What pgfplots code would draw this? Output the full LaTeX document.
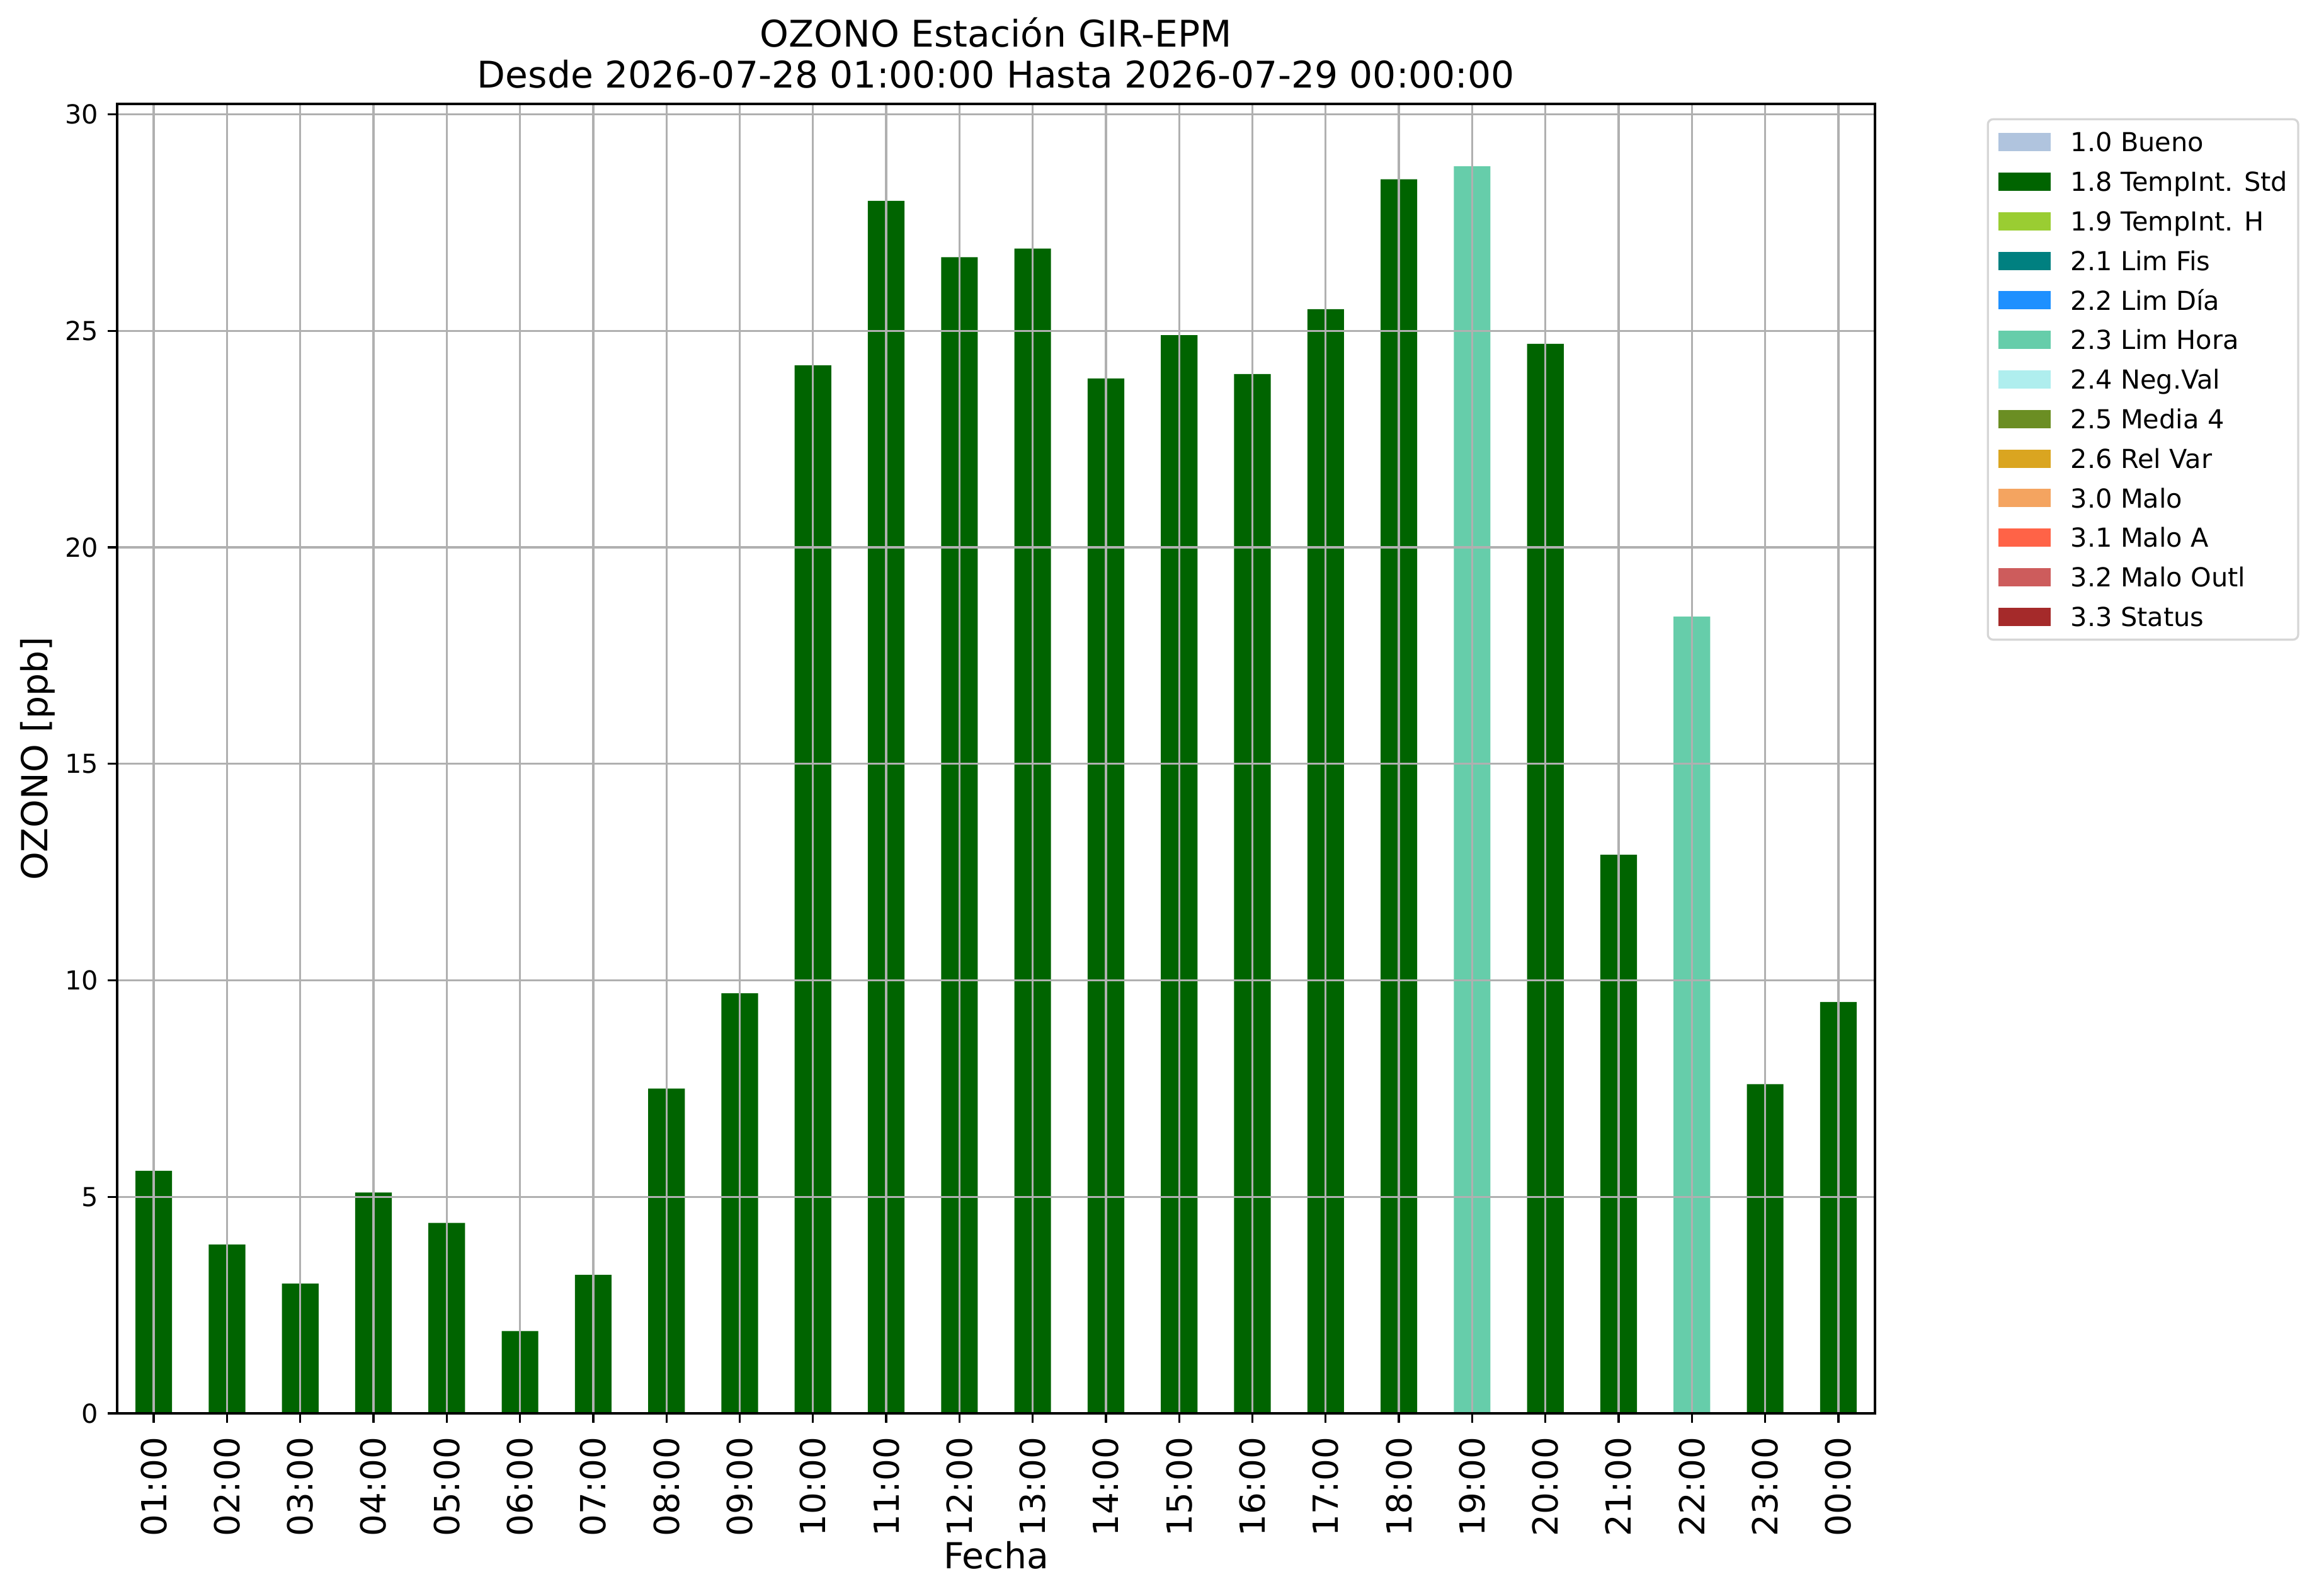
\documentclass[border=0pt]{standalone}
\usepackage{pgfplots}
\pgfplotsset{compat=1.18}
\usepackage{fontspec}
\setmainfont{DejaVu Sans}
\definecolor{cBueno}{HTML}{B0C4DE}
\definecolor{cStd}{HTML}{006400}
\definecolor{cH}{HTML}{9ACD32}
\definecolor{cFis}{HTML}{008080}
\definecolor{cDia}{HTML}{1E90FF}
\definecolor{cHora}{HTML}{66CDAA}
\definecolor{cNeg}{HTML}{AFEEEE}
\definecolor{cMedia}{HTML}{6B8E23}
\definecolor{cRel}{HTML}{DAA520}
\definecolor{cMalo}{HTML}{F4A460}
\definecolor{cMaloA}{HTML}{FF6347}
\definecolor{cOutl}{HTML}{CD5C5C}
\definecolor{cStatus}{HTML}{A52A2A}
\definecolor{gridgray}{HTML}{B0B0B0}
\definecolor{legframe}{HTML}{D6D6D6}
\begin{document}
\begin{tikzpicture}
\path[use as bounding box] (-44.64bp,-69.6bp) rectangle (839.04bp,538.56bp);
\begin{axis}[
  at={(0,0)}, anchor=south west,
  scale only axis, width=669.84bp, height=498.96bp,
  xmin=-0.5, xmax=23.5, ymin=0, ymax=30.24,
  xtick={0,1,...,23},
  xticklabels={01:00,02:00,03:00,04:00,05:00,06:00,07:00,08:00,09:00,10:00,11:00,12:00,13:00,14:00,15:00,16:00,17:00,18:00,19:00,20:00,21:00,22:00,23:00,00:00},
  ytick={0,5,10,15,20,25,30},
  /pgf/number format/assume math mode=true,
  axis on top,
  grid=major,
  major grid style={draw=gridgray, line width=0.8bp},
  axis line style={line width=0.8bp, draw=black},
  tick align=outside,
  tick pos=left,
  major tick length=3.5bp,
  every tick/.style={draw=black, line width=0.8bp},
  yticklabel style={font=\fontsize{10}{12}\selectfont, inner sep=0pt, anchor=east},
  yticklabel shift=3.46bp,
  xticklabel style={font=\fontsize{13.2}{15}\selectfont, rotate=90, anchor=east, inner sep=0pt},
  xticklabel shift=5.4bp,
  title={OZONO Estación GIR-EPM\\Desde 2026-07-28 01:00:00 Hasta 2026-07-29 00:00:00},
  every axis title/.style={at={(0.5,1)}, anchor=south, inner sep=0pt, yshift=5.8bp, align=center, font=\fontsize{14.05}{15.5}\selectfont},
  xlabel={Fecha},
  every axis x label/.style={at={(axis description cs:0.5,0)}, anchor=base, yshift=-59.2bp, inner sep=0pt, font=\fontsize{13.7}{16}\selectfont},
  ylabel={OZONO [ppb]},
  every axis y label/.style={at={(axis description cs:-0.03941,0.5)}, rotate=90, anchor=base, inner sep=0pt, font=\fontsize{13.7}{16}\selectfont},
  legend image code/.code={\fill[#1, sharp corners] (0bp,-3.48bp) rectangle (19.92bp,3.48bp);},
  legend cell align=left,
  legend style={
    at={(1.0636,0.9891)}, anchor=north west,
    draw=legframe, line width=0.8bp, rounded corners=2bp, fill=white,
    inner xsep=4bp, inner ysep=1.2bp,
    row sep=0pt,
    font=\fontsize{10}{12}\selectfont,
    nodes={inner sep=0pt, text height=11.18bp, text depth=3.89bp},
    /tikz/every odd column/.append style={column sep=7.7bp},
  },
]
\addplot[ybar, bar width=0.5, bar shift=0pt, fill=cStd, draw=none, forget plot] coordinates {
  (0,5.6) (1,3.9) (2,3.0) (3,5.1) (4,4.4) (5,1.9) (6,3.2) (7,7.5) (8,9.7)
  (9,24.2) (10,28.0) (11,26.7) (12,26.9) (13,23.9) (14,24.9) (15,24.0)
  (16,25.5) (17,28.5) (19,24.7) (20,12.9) (22,7.6) (23,9.5)
};
\addplot[ybar, bar width=0.5, bar shift=0pt, fill=cHora, draw=none, forget plot] coordinates {
  (18,28.8) (21,18.4)
};
\addlegendimage{fill=cBueno, draw=none}
\addlegendentry{1.0 Bueno}
\addlegendimage{fill=cStd, draw=none}
\addlegendentry{1.8 TempInt. Std}
\addlegendimage{fill=cH, draw=none}
\addlegendentry{1.9 TempInt. H}
\addlegendimage{fill=cFis, draw=none}
\addlegendentry{2.1 Lim Fis}
\addlegendimage{fill=cDia, draw=none}
\addlegendentry{2.2 Lim Día}
\addlegendimage{fill=cHora, draw=none}
\addlegendentry{2.3 Lim Hora}
\addlegendimage{fill=cNeg, draw=none}
\addlegendentry{2.4 Neg.Val}
\addlegendimage{fill=cMedia, draw=none}
\addlegendentry{2.5 Media 4}
\addlegendimage{fill=cRel, draw=none}
\addlegendentry{2.6 Rel Var}
\addlegendimage{fill=cMalo, draw=none}
\addlegendentry{3.0 Malo}
\addlegendimage{fill=cMaloA, draw=none}
\addlegendentry{3.1 Malo A}
\addlegendimage{fill=cOutl, draw=none}
\addlegendentry{3.2 Malo Outl}
\addlegendimage{fill=cStatus, draw=none}
\addlegendentry{3.3 Status}
\end{axis}
\end{tikzpicture}
\end{document}
